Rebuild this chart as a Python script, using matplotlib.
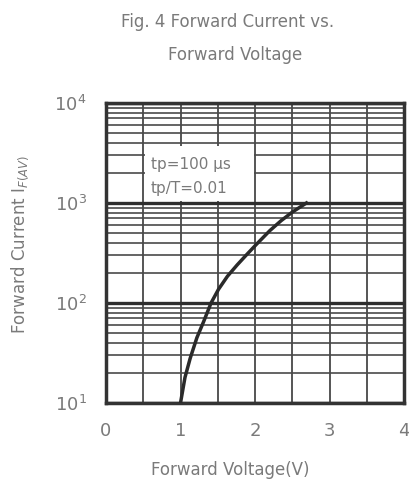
import numpy as np
import matplotlib
matplotlib.use("Agg")
import matplotlib.pyplot as plt
from matplotlib.patches import Rectangle
from matplotlib.ticker import MultipleLocator, LogLocator, NullFormatter

# curve
vf = [1.0, 1.06, 1.13, 1.22, 1.31, 1.41, 1.51, 1.63, 1.76, 1.88, 2.01, 2.20, 2.35, 2.50, 2.69]
i_f = [10, 18, 28, 45, 65, 100, 137, 185, 240, 300, 380, 530, 665, 810, 1000]

x_ticks = [0, 1, 2, 3, 4]
y_ticks = [10, 100, 1000, 10000]
y_tick_labels = [r'$10^{1}$', r'$10^{2}$', r'$10^{3}$', r'$10^{4}$']

txt_color = '#7a7a7a'
line_color = '#333333'

plt.rcParams['font.family'] = ['Liberation Sans Narrow', 'DejaVu Sans']
plt.rcParams['mathtext.fontset'] = 'dejavusans'

fig = plt.figure(figsize=(4.09, 4.86), dpi=100)
ax = fig.add_axes([106/409, 83/486, 298/409, 300/486])

ax.set_yscale('log')
ax.set_xlim(0, 4)
ax.set_ylim(10, 10000)

ax.xaxis.set_major_locator(MultipleLocator(1))
ax.xaxis.set_minor_locator(MultipleLocator(0.5))
ax.yaxis.set_major_locator(LogLocator(base=10))
ax.yaxis.set_minor_locator(LogLocator(base=10, subs=np.arange(2, 10)))
ax.yaxis.set_minor_formatter(NullFormatter())

ax.set_xticks(x_ticks)
ax.set_xticklabels([str(t) for t in x_ticks])
ax.set_yticks(y_ticks)
ax.set_yticklabels(y_tick_labels)

ax.yaxis.grid(True, which='major', color='#2e2e2e', lw=2.4)
ax.yaxis.grid(True, which='minor', color='#4a4a4a', lw=1.2)
ax.xaxis.grid(True, which='both', color='#555555', lw=1.4)
ax.set_axisbelow(True)

ax.tick_params(which='both', length=0)
ax.tick_params(axis='x', pad=14, labelsize=13, labelcolor=txt_color)
ax.tick_params(axis='y', pad=14, labelsize=13, labelcolor=txt_color)

for s in ax.spines.values():
    s.set_color(line_color)
    s.set_linewidth(2.5)

ax.plot(vf, i_f, color='#2a2a2a', lw=2.5, zorder=3)

# note box
ax.add_patch(Rectangle((0.52, 1040), 1.46, 2650, facecolor='white',
                       edgecolor='none', zorder=2))
ax.text(0.6, 2450, 'tp=100 μs', color=txt_color, fontsize=11,
        va='center', ha='left', zorder=4)
ax.text(0.6, 1400, 'tp/T=0.01', color=txt_color, fontsize=11,
        va='center', ha='left', zorder=4)

fig.text(228/409, 1 - 22/486, 'Fig. 4 Forward Current vs.', color=txt_color,
         fontsize=12, ha='center', va='center')
fig.text(235/409, 1 - 55/486, 'Forward Voltage', color=txt_color,
         fontsize=12, ha='center', va='center')
fig.text(230/409, 1 - 470/486, 'Forward Voltage(V)', color=txt_color,
         fontsize=12, ha='center', va='center')
fig.text(20/409, 1 - 244/486, r'Forward Current I$_{F(AV)}$', color=txt_color,
         fontsize=12, ha='center', va='center', rotation=90)

plt.savefig('out.png', dpi=100)
